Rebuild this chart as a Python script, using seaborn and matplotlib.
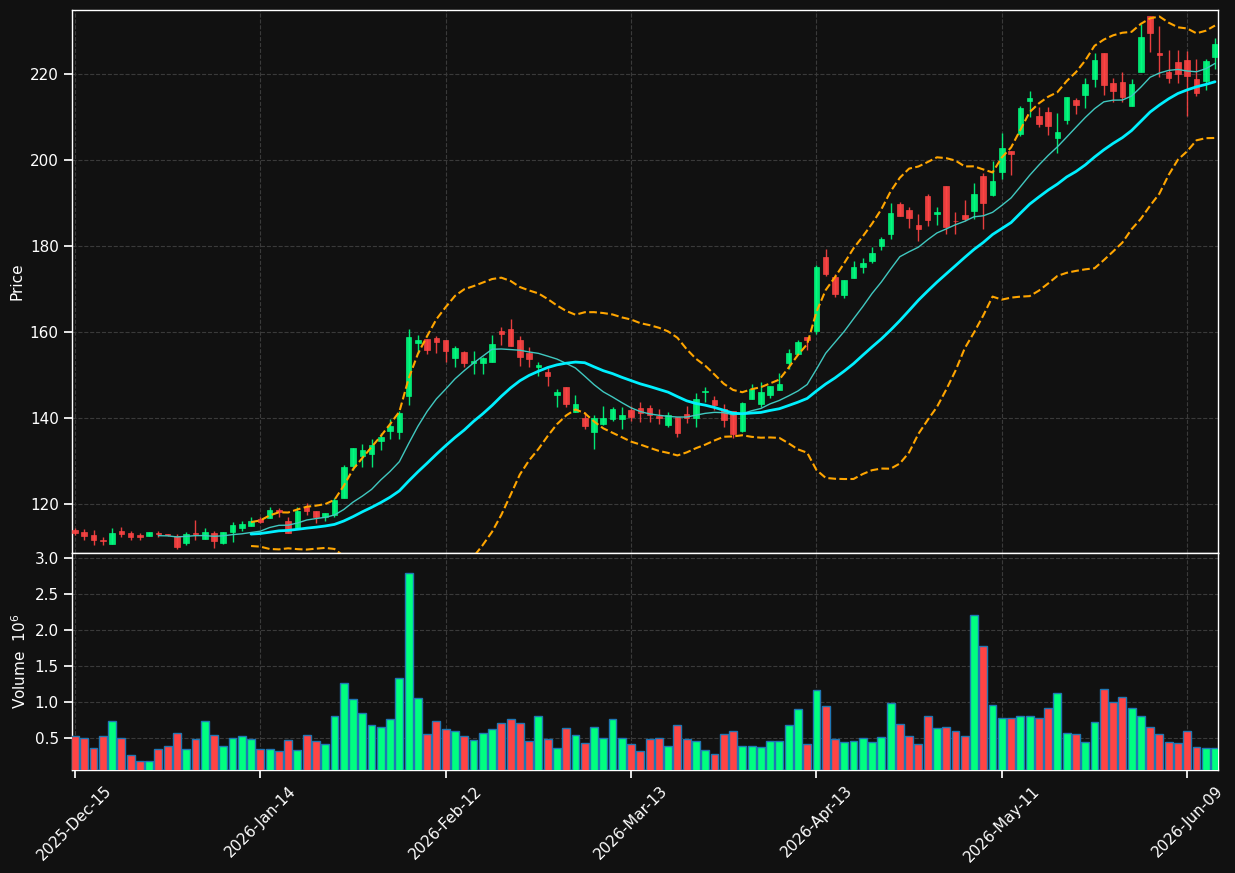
import numpy as np
import pandas as pd
import matplotlib
matplotlib.use("Agg")
import matplotlib.pyplot as plt
import seaborn as sns

# OHLC (one entry per trading day)
opens = [113.88, 113.49, 112.79, 111.7, 110.77, 113.8, 113.26, 112.8, 112.56, 113.2,
         113.0, 112.6, 110.85, 113.26, 111.86, 113.26, 110.93, 113.5, 114.34, 114.9,
         116.4, 116.8, 118.6, 116.05, 114.34, 119.2, 118.37, 116.9, 117.44, 121.47,
         128.9, 131.16, 131.7, 134.7, 137.05, 136.8, 145.1, 157.5, 158.37, 158.6,
         158.1, 154.03, 155.27, 152.71, 152.71, 153.1, 160.23, 160.7, 158.14, 155.2,
         151.86, 150.77, 145.35, 147.2, 141.4, 140.0, 136.74, 138.68, 139.77, 139.77,
         141.86, 142.25, 142.33, 140.54, 138.37, 140.3, 140.93, 140.08, 146.05, 144.18,
         142.0, 141.55, 137.06, 144.5, 143.26, 145.35, 146.6, 152.87, 154.9, 158.76,
         160.3, 177.4, 172.8, 168.6, 172.6, 175.2, 176.6, 180.08, 182.9, 189.77,
         188.4, 184.8, 191.6, 187.4, 193.95, 185.9, 187.2, 188.2, 196.3, 191.86,
         197.3, 202.2, 206.0, 213.8, 210.2, 211.2, 205.1, 209.3, 214.0, 215.2,
         218.9, 224.8, 217.9, 218.2, 212.6, 220.5, 233.5, 224.96, 220.5, 222.8,
         223.25, 218.8, 218.45, 224.0]
highs = [114.5, 114.1, 113.95, 112.3, 114.4, 114.57, 113.7, 113.3, 113.5, 113.7,
         113.1, 112.9, 113.5, 116.3, 114.4, 113.7, 113.5, 115.8, 116.05, 116.9,
         116.9, 119.4, 119.14, 117.05, 119.4, 120.15, 118.4, 117.9, 121.3, 129.07,
         133.02, 133.87, 135.1, 136.4, 139.8, 141.7, 160.6, 159.4, 158.4, 159.1,
         158.1, 156.75, 155.58, 155.5, 154.2, 159.3, 161.08, 163.0, 159.07, 156.4,
         153.0, 151.7, 146.74, 147.2, 145.35, 141.47, 140.77, 142.87, 142.64, 142.64,
         142.87, 143.64, 143.0, 142.0, 141.3, 140.3, 142.8, 145.7, 147.2, 145.2,
         143.3, 141.55, 143.8, 147.83, 148.4, 147.44, 150.4, 156.05, 158.14, 158.76,
         175.66, 179.3, 173.6, 172.1, 176.4, 177.3, 179.84, 182.0, 189.9, 190.2,
         189.0, 187.4, 192.2, 189.0, 193.95, 187.8, 190.7, 194.6, 196.9, 199.8,
         206.2, 202.2, 212.5, 216.0, 212.4, 212.4, 210.85, 214.7, 214.5, 219.1,
         225.0, 224.8, 219.1, 220.5, 218.8, 231.6, 233.5, 231.2, 225.6, 225.6,
         225.3, 223.6, 223.6, 228.3]
lows = [112.7, 111.7, 110.39, 110.4, 110.77, 112.25, 111.6, 111.5, 112.5, 112.25,
        112.6, 109.6, 110.5, 111.6, 111.86, 109.85, 110.7, 111.1, 113.6, 114.9,
        115.5, 116.8, 116.9, 113.2, 114.34, 117.45, 115.66, 115.97, 116.9, 121.47,
        127.9, 128.6, 128.6, 132.56, 135.0, 135.0, 142.9, 155.0, 154.8, 155.0,
        153.1, 151.94, 151.94, 150.15, 150.15, 153.1, 156.98, 156.74, 152.17, 151.94,
        149.8, 147.5, 142.64, 142.48, 141.4, 137.5, 132.7, 138.3, 139.2, 137.4,
        139.38, 139.15, 139.15, 138.6, 137.98, 135.66, 138.76, 137.8, 143.6, 141.86,
        137.98, 135.27, 136.8, 144.5, 142.5, 144.73, 146.6, 151.4, 154.9, 155.8,
        159.5, 173.0, 168.06, 167.8, 172.6, 173.8, 176.1, 179.07, 181.7, 187.05,
        184.1, 181.2, 184.6, 184.8, 182.9, 182.9, 185.9, 186.2, 183.9, 191.6,
        195.5, 196.5, 205.6, 209.9, 207.6, 205.8, 201.7, 208.3, 210.7, 212.2,
        217.05, 215.1, 213.6, 213.6, 212.6, 220.5, 225.2, 219.2, 217.8, 218.0,
        210.2, 215.0, 216.3, 221.1]
closes = [113.26, 112.56, 111.63, 111.3, 113.26, 113.1, 112.33, 112.4, 113.5, 112.9,
          112.8, 110.08, 113.0, 112.9, 113.4, 111.47, 113.5, 115.1, 115.35, 116.05,
          115.8, 118.6, 118.06, 113.33, 118.37, 118.45, 116.9, 117.9, 120.93, 128.68,
          133.02, 132.55, 133.7, 135.5, 138.1, 141.1, 158.9, 158.1, 155.81, 157.75,
          155.6, 156.3, 152.87, 153.33, 153.95, 157.2, 159.53, 156.74, 154.26, 153.72,
          152.4, 149.77, 146.1, 143.26, 143.26, 138.14, 139.92, 140.0, 142.17, 140.7,
          140.23, 141.08, 140.7, 140.08, 140.7, 136.6, 139.92, 144.4, 146.3, 143.03,
          139.5, 136.2, 143.4, 146.67, 145.97, 147.44, 147.9, 155.0, 157.6, 158.14,
          175.0, 173.5, 168.8, 172.1, 175.1, 175.97, 178.37, 181.6, 187.6, 187.05,
          186.6, 184.03, 186.1, 187.9, 184.5, 185.7, 186.35, 192.1, 189.9, 195.1,
          202.8, 201.4, 212.1, 214.4, 208.4, 208.0, 206.5, 214.7, 212.8, 217.7,
          223.25, 217.4, 216.0, 214.7, 217.7, 228.7, 229.5, 224.5, 219.0, 219.9,
          219.6, 215.65, 223.0, 227.0]
# volume in millions
volumes = [0.528, 0.500, 0.361, 0.528, 0.736, 0.500, 0.264, 0.176, 0.176, 0.343,
           0.389, 0.569, 0.343, 0.486, 0.736, 0.542, 0.389, 0.500, 0.528, 0.486,
           0.343, 0.343, 0.315, 0.472, 0.333, 0.542, 0.458, 0.417, 0.806, 1.264,
           1.042, 0.847, 0.681, 0.653, 0.764, 1.333, 2.792, 1.055, 0.555, 0.736,
           0.625, 0.597, 0.528, 0.472, 0.569, 0.625, 0.708, 0.764, 0.708, 0.458,
           0.806, 0.486, 0.361, 0.639, 0.542, 0.431, 0.653, 0.500, 0.764, 0.500,
           0.417, 0.319, 0.486,
           0.500, 0.389, 0.681, 0.486, 0.458, 0.333, 0.278, 0.555, 0.597, 0.389,
           0.389, 0.375, 0.458, 0.458, 0.681, 0.903, 0.417, 1.167, 0.944, 0.486,
           0.444, 0.458, 0.500, 0.444, 0.514, 0.986, 0.694, 0.528, 0.417, 0.806,
           0.639, 0.653, 0.597, 0.528, 2.208, 1.778, 0.958, 0.778, 0.778, 0.806,
           0.806, 0.778, 0.917, 1.125, 0.569, 0.555, 0.444, 0.722, 1.181, 1.000,
           1.069, 0.917, 0.806, 0.653, 0.555, 0.444, 0.431, 0.597, 0.375, 0.361,
           0.361]
tick_pos = [0, 20, 40, 60, 80, 100, 120]
tick_labels = ["2025-Dec-15", "2026-Jan-14", "2026-Feb-12", "2026-Mar-13",
               "2026-Apr-13", "2026-May-11", "2026-Jun-09"]

UP = "#00ff80"
DOWN = "#ff4444"
BG = "#111111"
FG = "#ffffff"

sns.set_theme(style="dark", rc={
    "axes.facecolor": BG, "figure.facecolor": BG,
    "axes.edgecolor": FG, "axes.labelcolor": FG,
    "xtick.color": FG, "ytick.color": FG, "text.color": FG,
    "xtick.bottom": True, "ytick.left": True,
})
plt.rcParams["font.family"] = ["DejaVu Sans"]

df = pd.DataFrame({"open": opens, "high": highs, "low": lows,
                   "close": closes, "volume": volumes})
df["idx"] = np.arange(len(df))
df["ma10"] = df["close"].rolling(10).mean()
df["ma20"] = df["close"].rolling(20).mean()
std20 = df["close"].rolling(20).std()
df["upper"] = df["ma20"] + 2 * std20
df["lower"] = df["ma20"] - 2 * std20
df["up"] = df["close"] >= df["open"]
colors = np.where(df["up"], UP, DOWN)

fig = plt.figure(figsize=(12.35, 8.73), dpi=100)
ax = fig.add_axes([0.0583, 0.3666, 0.9279, 0.6220])
axv = fig.add_axes([0.0583, 0.1180, 0.9279, 0.2486], sharex=ax)

# candles
ax.vlines(df["idx"], df["low"], df["high"], colors=colors, lw=1, alpha=0.9, zorder=2)
body_lo = np.minimum(df["open"], df["close"])
body_h = (df["close"] - df["open"]).abs().clip(lower=0.15)
ax.bar(df["idx"], body_h, bottom=body_lo, width=0.6, color=colors,
       edgecolor=colors, lw=0.5, alpha=0.9, zorder=3)

# moving averages and bands
sns.lineplot(data=df, x="idx", y="ma10", ax=ax, color="#40c8c0", lw=1,
             estimator=None, zorder=4)
sns.lineplot(data=df, x="idx", y="ma20", ax=ax, color="#00f0ff", lw=2,
             estimator=None, zorder=4)
for col in ["upper", "lower"]:
    sns.lineplot(data=df, x="idx", y=col, ax=ax, color="#ffa500", lw=1.5,
                 linestyle="--", estimator=None, zorder=4)

ax.set_ylim(108.6, 234.9)
ax.set_xlim(-0.32, 123.32)
ax.set_ylabel("Price", fontsize=11)
ax.set_xlabel("")
ax.grid(True, linestyle="--", color="#3a3a3a", lw=0.8)
ax.tick_params(labelbottom=False, bottom=False, labelsize=11, colors=FG)

# volume
axv.bar(df["idx"], df["volume"], width=0.85, color=colors,
        edgecolor="#1f77b4", lw=1, zorder=3)
axv.set_ylim(0.053, 3.07)
axv.set_yticks([0.5, 1.0, 1.5, 2.0, 2.5, 3.0])
axv.set_ylabel("Volume  $10^{6}$", fontsize=11)
axv.grid(True, linestyle="--", color="#3a3a3a", lw=0.8)
axv.set_xticks(tick_pos)
axv.set_xticklabels(tick_labels, rotation=45)
axv.tick_params(labelsize=11, colors=FG)

for a in (ax, axv):
    for s in a.spines.values():
        s.set_color(FG)
        s.set_linewidth(1)

fig.savefig("out.png", dpi=100, facecolor=BG)
